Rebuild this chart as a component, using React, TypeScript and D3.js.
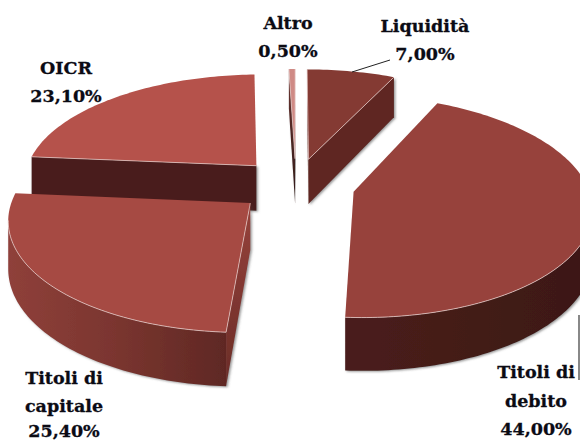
import * as d3 from "d3";

const categories = ["Liquidità", "Titoli di debito", "Titoli di capitale", "OICR", "Altro"];
const values = [7.0, 44.0, 25.4, 23.1, 0.5];

const width = 580;
const height = 443;

// fake 3D: ground plane with a simple perspective
const cx = 296;
const cy = 185;
const radius = 234;
const explode = 59;
const depth = 46;
const dist = 1814;
const tilt = 0.46;

type Pt = [number, number];

function project(x: number, z: number, h = 0): Pt {
  const s = dist / (dist + z);
  return [cx + x * s, cy - z * tilt * s + h * s];
}

const topColors = ["#843a33", "#97423c", "#a64a43", "#b5524b", "#cf8a85"];
const cutColors = ["#5e2823", "#3f1a17", "url(#capCut)", "#4a1f1b", "url(#altroCut)"];
const wallColors = ["#5e2823", "url(#debWall)", "url(#capWall)", "#4a1f1b", "#6b3a36"];

const labelLayout = [
  { x: 425, lines: [32, 60] },
  { x: 536, lines: [378, 407, 435] },
  { x: 64, lines: [384, 412, 437] },
  { x: 66, lines: [74, 102] },
  { x: 288, lines: [29, 57] },
];
const labelBreaks = [["Liquidità"], ["Titoli di", "debito"], ["Titoli di", "capitale"], ["OICR"], ["Altro"]];

const path = d3.line();

function Slice({ arc, i }: { arc: d3.PieArcDatum<number>; i: number }) {
  const mid = (arc.startAngle + arc.endAngle) / 2;
  const ox = explode * Math.sin(mid);
  const oz = explode * Math.cos(mid);
  const rim = (a: number, h = 0) =>
    project(ox + radius * Math.sin(a), oz + radius * Math.cos(a), h);
  const apex = (h = 0) => project(ox, oz, h);

  const n = Math.max(2, Math.ceil((arc.endAngle - arc.startAngle) / 0.02));
  const step = (arc.endAngle - arc.startAngle) / n;
  const angles = d3.range(n + 1).map(k => arc.startAngle + step * k);
  const top: Pt[] = [apex(), ...angles.map(a => rim(a))];
  const outer = rim(mid);
  const centre: Pt = [(apex()[0] + outer[0]) / 2, (apex()[1] + outer[1]) / 2];

  // a face shows when pushing its top edge down moves it away from the top surface
  const shows = (p: Pt, q: Pt) => {
    const ex = q[0] - p[0];
    const ey = q[1] - p[1];
    const side = ex * (centre[1] - p[1]) - ey * (centre[0] - p[0]);
    return ex * side < 0;
  };

  const cuts = [arc.startAngle, arc.endAngle]
    .filter(a => shows(apex(), rim(a)))
    .map(a => [apex(), rim(a), rim(a, depth), apex(depth)] as Pt[]);

  const front = angles.filter((a, k) => k < n && shows(rim(a), rim(angles[k + 1])));
  const frontAll = front.length ? [...front, front[front.length - 1] + step] : [];
  const edge: Pt[] = frontAll.map(a => rim(a));
  const wall: Pt[] = [...edge, ...[...frontAll].reverse().map(a => rim(a, depth))];

  return (
    <g>
      <g filter="url(#soft)">
        {cuts.map((c, k) => (
          <path key={k} d={path(c) ?? undefined} fill={cutColors[i]} />
        ))}
        {wall.length > 0 && <path d={path(wall) ?? undefined} fill={wallColors[i]} />}
      </g>
      <path d={(path(top) ?? "") + "Z"} fill={topColors[i]} />
      {cuts.map((c, k) => (
        <path key={k} d={path([c[0], c[1]]) ?? undefined} fill="none" stroke="#e8cfcc" strokeOpacity={0.7} strokeWidth={1} />
      ))}
      {edge.length > 0 && (
        <path d={path(edge) ?? undefined} fill="none" stroke="#e8cfcc" strokeOpacity={0.75} strokeWidth={1} />
      )}
    </g>
  );
}

export default function App() {
  const arcs = d3.pie<number>().sort(null)(values);
  // back slices first
  const order = d3.range(arcs.length).sort((a, b) => {
    const ma = (arcs[a].startAngle + arcs[a].endAngle) / 2;
    const mb = (arcs[b].startAngle + arcs[b].endAngle) / 2;
    return Math.cos(mb) - Math.cos(ma);
  });

  return (
    <svg
      width={width}
      height={height}
      style={{ position: "absolute", left: 0, top: 0, background: "#fff" }}
    >
      <defs>
        <linearGradient id="capWall" x1="0" x2="1" y1="0" y2="0">
          <stop offset="0" stopColor="#8f403a" />
          <stop offset="0.5" stopColor="#7a352f" />
          <stop offset="1" stopColor="#5f2824" />
        </linearGradient>
        <linearGradient id="capCut" x1="0" x2="0" y1="0" y2="1">
          <stop offset="0" stopColor="#96423b" />
          <stop offset="1" stopColor="#6a2c27" />
        </linearGradient>
        <linearGradient id="debWall" x1="0" x2="1" y1="0" y2="0">
          <stop offset="0" stopColor="#4a1f1b" />
          <stop offset="1" stopColor="#3c1815" />
        </linearGradient>
        <linearGradient id="altroCut" x1="0" x2="0" y1="0" y2="1">
          <stop offset="0" stopColor="#6b3531" />
          <stop offset="1" stopColor="#2f1a18" />
        </linearGradient>
        <filter id="soft" x="-10%" y="-10%" width="120%" height="120%">
          <feDropShadow dx="1.5" dy="1" stdDeviation="1.2" floodColor="#555" floodOpacity="0.6" />
        </filter>
      </defs>

      {order.map(i => (
        <Slice key={i} arc={arcs[i]} i={i} />
      ))}

      <line x1={352} y1={72} x2={390} y2={60} stroke="#222" strokeWidth={1} />
      <line x1={579} y1={315} x2={579} y2={380} stroke="#888" strokeWidth={2} />

      <g
        fontFamily="'DejaVu Serif', serif"
        fontWeight="bold"
        fontSize={17.5}
        fill="#0b0b14"
        stroke="#0b0b14"
        strokeWidth={0.3}
        textAnchor="middle"
      >
        {categories.map((c, i) => {
          const lines = [...labelBreaks[i], values[i].toFixed(2).replace(".", ",") + "%"];
          return lines.map((t, k) => (
            <text key={c + k} x={labelLayout[i].x} y={labelLayout[i].lines[k]}>
              {t}
            </text>
          ));
        })}
      </g>
    </svg>
  );
}
